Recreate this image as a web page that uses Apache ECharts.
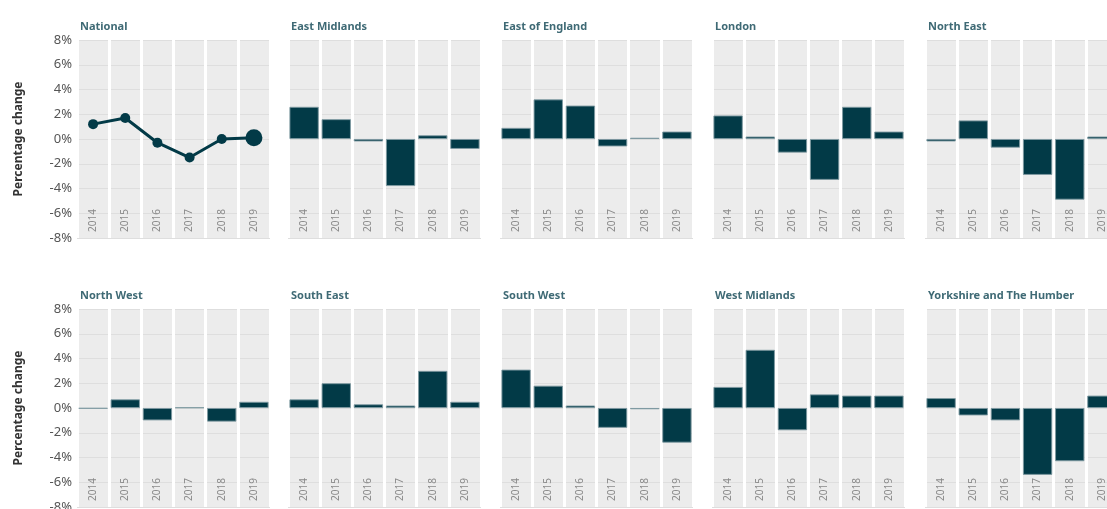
<!DOCTYPE html>
<html>
<head>
<meta charset="utf-8">
<script src="https://cdn.jsdelivr.net/npm/echarts@6/dist/echarts.min.js"></script>
<style>
  html, body { margin: 0; padding: 0; background: #fff; overflow: hidden; }
  #chart { width: 1107px; height: 509px; }
</style>
</head>
<body>
<div id="chart"></div>
<script>
// years on the x axis of each panel
const years = ['2014', '2015', '2016', '2017', '2018', '2019']
const yTicks = [-8, -6, -4, -2, 0, 2, 4, 6, 8]

// percentage change by region
const national = [1.2, 1.7, -0.3, -1.5, 0.0, 0.1]
const eastMidlands = [2.6, 1.6, -0.2, -3.8, 0.3, -0.8]
const eastOfEngland = [0.9, 3.2, 2.7, -0.6, 0.1, 0.6]
const london = [1.9, 0.2, -1.1, -3.3, 2.6, 0.6]
const northEast = [-0.2, 1.5, -0.7, -2.9, -4.9, 0.2]
const northWest = [-0.05, 0.7, -1.0, 0.05, -1.1, 0.5]
const southEast = [0.7, 2.0, 0.3, 0.2, 3.0, 0.5]
const southWest = [3.1, 1.8, 0.2, -1.6, -0.1, -2.8]
const westMidlands = [1.7, 4.7, -1.8, 1.1, 1.0, 1.0]
const yorkshire = [0.8, -0.6, -1.0, -5.4, -4.3, 1.0]

const panels = [
  { name: 'National', data: national, line: true },
  { name: 'East Midlands', data: eastMidlands },
  { name: 'East of England', data: eastOfEngland },
  { name: 'London', data: london },
  { name: 'North East', data: northEast },
  { name: 'North West', data: northWest },
  { name: 'South East', data: southEast },
  { name: 'South West', data: southWest },
  { name: 'West Midlands', data: westMidlands },
  { name: 'Yorkshire and The Humber', data: yorkshire }
]

const dark = '#023a47'
const font = 'Noto Sans'
const lefts = [77, 288, 500, 712, 925]
const tops = [40, 309]
const gridW = 193
const gridH = 198

const titles = [], grids = [], xAxes = [], yAxes = [], series = []

panels.forEach((p, i) => {
  const col = i % 5
  const row = Math.floor(i / 5)
  const first = col === 0

  titles.push({
    text: p.name,
    left: lefts[col] - 2,
    top: tops[row] - 24,
    textStyle: { fontFamily: font, fontSize: 11, fontWeight: 'bold', color: '#3f6a75' }
  })

  grids.push({
    left: lefts[col], top: tops[row], width: gridW, height: gridH,
    outerBoundsMode: 'none',
    show: true, backgroundColor: '#ececec', borderWidth: 0
  })

  xAxes.push({
    type: 'category',
    gridIndex: i,
    data: years,
    axisLine: { show: false, onZero: false },
    axisTick: { show: false },
    splitLine: { show: true, lineStyle: { color: '#ffffff', width: 3 } },
    axisLabel: {
      inside: true,
      rotate: 90,
      margin: 6,
      padding: [0, 0, 14, 0],
      fontFamily: font,
      fontSize: 10,
      color: '#8a8a8a'
    },
    z: 3
  })

  yAxes.push({
    type: 'value',
    gridIndex: i,
    min: yTicks[0],
    max: yTicks[yTicks.length - 1],
    interval: 2,
    name: first ? 'Percentage change' : '',
    nameLocation: 'middle',
    nameGap: 52,
    nameTextStyle: { fontFamily: font, fontSize: 12, fontWeight: 'bold', color: '#333' },
    axisLine: { show: false },
    axisTick: { show: false },
    splitLine: { show: true, lineStyle: { color: '#dedede', width: 1 } },
    axisLabel: {
      show: first,
      margin: 5,
      fontFamily: font,
      fontSize: 13,
      color: '#555',
      formatter: v => v + '%'
    }
  })

  if (p.line) {
    series.push({
      type: 'line',
      xAxisIndex: i,
      yAxisIndex: i,
      data: p.data.map((v, k) => k === p.data.length - 1 ? { value: v, symbolSize: 17 } : v),
      symbol: 'circle',
      symbolSize: 10,
      lineStyle: { color: dark, width: 3 },
      itemStyle: { color: dark },
      z: 5
    })
  } else {
    series.push({
      type: 'bar',
      xAxisIndex: i,
      yAxisIndex: i,
      data: p.data,
      barCategoryGap: '9%',
      itemStyle: { color: dark, borderColor: '#7f9aa1', borderWidth: 0.9 },
      z: 5
    })
  }
})

const chart = echarts.init(document.getElementById('chart'))
chart.setOption({
  animation: false,
  title: titles,
  grid: grids,
  xAxis: xAxes,
  yAxis: yAxes,
  series: series
})
</script>
</body>
</html>
